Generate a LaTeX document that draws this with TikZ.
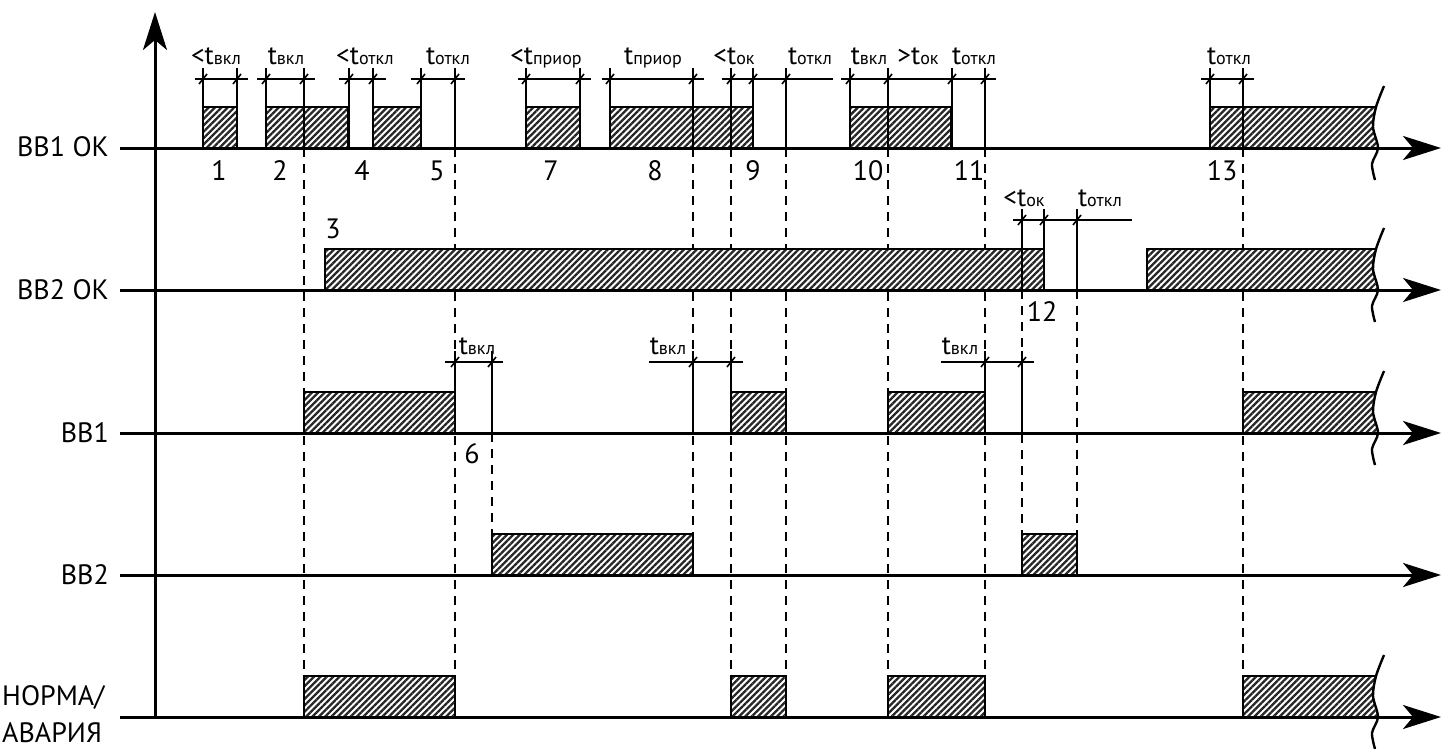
\documentclass[tikz,border=0pt]{standalone}
\usepackage{fontspec}
\setmainfont{PT Sans}
\usetikzlibrary{arrows.meta,patterns.meta}
\newcommand\tsub[1]{{\fontsize{18}{18}\selectfont #1}}
\begin{document}
\begin{tikzpicture}[x=1pt,y=-1pt,
  axis/.style={line width=3pt,-{Stealth[length=38pt,width=24pt,inset=10pt]}},
  pulse/.style={line width=2.4pt},
  hatch/.style={pattern={Lines[angle=45,distance=4.5pt,line width=2.3pt]},pattern color=black!85},
  dimline/.style={line width=2pt},
  tickmark/.style={line width=1.6pt},
  guide/.style={line width=2pt,dash pattern=on 9pt off 7pt},
  lab/.style={inner sep=0pt,font=\fontsize{27}{27}\selectfont,anchor=base},
  num/.style={inner sep=0pt,font=\fontsize{28}{28}\selectfont,anchor=base},
  rowlab/.style={inner sep=0pt,font=\fontsize{28}{28}\selectfont,anchor=base east}]
\useasboundingbox (0,0) rectangle (1453,749);

% guide (dashed) lines
\foreach \x/\ya/\yb in {304/148/676,455/148/676,492/433/534,693/148/534,731/148/676,
  786/148/676,888/148/676,985/148/676,1022/290/534,1077/290/534,1243/148/676}
  \draw[guide] (\x,\ya) -- (\x,\yb);

% rectangular pulses
\foreach \a/\b/\yy in {203/237/148,266/348/148,373/421/148,526/580/148,610/753/148,850/951/148,
  325/1044/290,304/455/433,731/786/433,888/985/433,492/693/575,1022/1077/575,
  304/455/717,731/786/717,888/985/717}
{
  \fill[white] (\a,\yy) rectangle (\b,\yy-41);
  \path[hatch] (\a,\yy) rectangle (\b,\yy-41);
  \draw[pulse] (\a,\yy) -- (\a,\yy-41) -- (\b,\yy-41) -- (\b,\yy);
}

% pulses ending in a break
\foreach \a/\yy in {1210/148,1147/290,1243/433,1243/717}
{
  \fill[white] (\a,\yy) -- (\a,\yy-41) -- (1376,\yy-41) .. controls (1371,\yy-28) and (1373,\yy-10) .. (1378,\yy) -- cycle;
  \path[hatch] (\a,\yy) -- (\a,\yy-41) -- (1376,\yy-41) .. controls (1371,\yy-28) and (1373,\yy-10) .. (1378,\yy) -- cycle;
  \draw[pulse] (1376,\yy-41) -- (\a,\yy-41) -- (\a,\yy);
  \draw[pulse] plot[smooth] coordinates {(1384,\yy-62) (1376,\yy-41) (1373,\yy-21) (1378,\yy) (1372,\yy+16) (1375,\yy+32)};
}

% dimension lines
\foreach \l/\r/\yd in {195/248/79,257/315/79,339/386/79,411/465/79,518/591/79,602/704/79,
  722/833/79,841/996/79,1201/1254/79,1013/1132/220,445/503/362,649/743/362,941/1034/362}
  \draw[dimline] (\l,\yd) -- (\r,\yd);
\foreach \x/\yd/\yb in {203/79/148,237/79/148,266/79/148,304/79/148,349/79/148,373/79/148,
  421/79/148,455/79/148,526/79/148,580/79/148,610/79/148,693/79/148,731/79/148,753/79/148,
  786/79/148,850/79/148,888/79/148,952/79/148,985/79/148,1210/79/148,1243/79/148,
  1022/220/290,1044/220/290,1077/220/290,
  455/362/433,492/362/433,693/362/433,731/362/433,985/362/433,1022/362/433}
{
  \draw[dimline] (\x,\yd-11) -- (\x,\yb);
  \draw[tickmark] (\x-4,\yd+5) -- (\x+4,\yd-5);
}

% axes
\draw[axis] (155,717) -- (155,12);
\foreach \yy in {148,290,433,575,717}
  \draw[axis] (120,\yy) -- (1441,\yy);

% row labels
\node[rowlab] (r1) at (109,157) {ВВ1 ОК};
\node[rowlab] (r2) at (109,299) {ВВ2 ОК};
\node[rowlab] (r3) at (109,442) {ВВ1};
\node[rowlab] (r4) at (109,584) {ВВ2};
\node[rowlab,anchor=base west] (r5a) at (2,705) {НОРМА/};
\node[rowlab,anchor=base west] (r5b) at (2,742) {АВАРИЯ};

% time labels
\node[lab] (t1) at (216,65) {<t\tsub{вкл}};
\node[lab] (t2) at (286,65) {t\tsub{вкл}};
\node[lab] (t3) at (365,65) {<t\tsub{откл}};
\node[lab] (t4) at (448,65) {t\tsub{откл}};
\node[lab] (t5) at (546,65) {<t\tsub{приор}};
\node[lab] (t6) at (653,65) {t\tsub{приор}};
\node[lab] (t7) at (734,65) {<t\tsub{ок}};
\node[lab] (t8) at (810,65) {t\tsub{откл}};
\node[lab] (t9) at (869,65) {t\tsub{вкл}};
\node[lab] (t10) at (918,65) {>t\tsub{ок}};
\node[lab] (t11) at (974,65) {t\tsub{откл}};
\node[lab] (t12) at (1229,65) {t\tsub{откл}};
\node[lab] (t13) at (1024,206) {<t\tsub{ок}};
\node[lab] (t14) at (1100,206) {t\tsub{откл}};
\node[lab] (t15) at (477,354) {t\tsub{вкл}};
\node[lab] (t16) at (668,354) {t\tsub{вкл}};
\node[lab] (t17) at (960,354) {t\tsub{вкл}};

% event numbers
\node[num] (n1) at (219,180) {1};
\node[num] (n2) at (280,180) {2};
\node[num] (n3) at (333,238) {3};
\node[num] (n4) at (362,180) {4};
\node[num] (n5) at (437,180) {5};
\node[num] (n6) at (472,463) {6};
\node[num] (n7) at (551,180) {7};
\node[num] (n8) at (655,180) {8};
\node[num] (n9) at (753,180) {9};
\node[num] (n10) at (868,180) {10};
\node[num] (n11) at (969,180) {11};
\node[num] (n12) at (1042,321) {12};
\node[num] (n13) at (1222,180) {13};
\end{tikzpicture}
\end{document}
